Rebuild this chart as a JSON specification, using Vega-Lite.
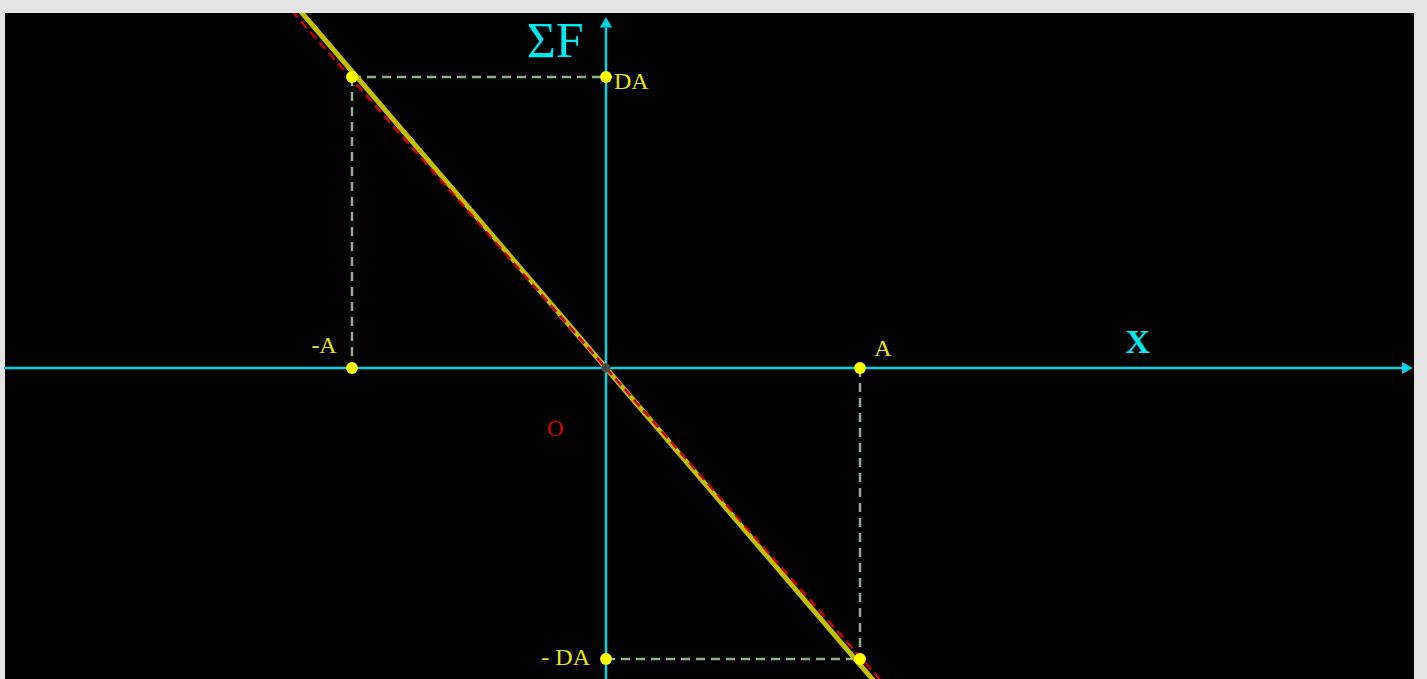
{
  "$schema": "https://vega.github.io/schema/vega-lite/v6.json",
  "autosize": {"type": "none"},
  "width": 1409,
  "height": 666,
  "padding": {"left": 5, "top": 13, "right": 13, "bottom": 0},
  "background": "#e4e4e4",
  "config": {"view": {"fill": "#000000", "stroke": null}},
  "datasets": {
    "axes": [
      {"x": -2.37, "y": 0, "x2": 3.14, "y2": 0},
      {"x": 0, "y": -1.07, "x2": 0, "y2": 1.17}
    ],
    "arrows": [
      {"x": 3.155, "y": 0, "dir": "right"},
      {"x": 0, "y": 1.188, "dir": "up"}
    ],
    "guides": [
      {"x": -1, "y": 1, "x2": 0, "y2": 1},
      {"x": -1, "y": 1, "x2": -1, "y2": 0},
      {"x": 1, "y": 0, "x2": 1, "y2": -1},
      {"x": 0, "y": -1, "x2": 1, "y2": -1}
    ],
    "force": [{"x": -1.275, "y": 1.3, "x2": 1.275, "y2": -1.3}],
    "ideal": [{"x": -1.31, "y": 1.3, "x2": 1.31, "y2": -1.3}],
    "points": [
      {"x": -1, "y": 1},
      {"x": 0, "y": 1},
      {"x": -1, "y": 0},
      {"x": 1, "y": 0},
      {"x": 0, "y": -1},
      {"x": 1, "y": -1}
    ],
    "origin": [{"x": 0, "y": 0}],
    "labelsLeft": [
      {"x": 0.0315, "y": 0.983, "label": "DA"}
    ],
    "labelsCenter": [
      {"x": -1.11, "y": 0.0756, "label": "-A"},
      {"x": 1.09, "y": 0.065, "label": "A"}
    ],
    "labelsRight": [
      {"x": -0.063, "y": -0.997, "label": "- DA"}
    ],
    "sigma": [{"x": -0.2, "y": 1.12, "label": "ΣF"}],
    "xlabel": [{"x": 2.094, "y": 0.085, "label": "X"}],
    "olabel": [{"x": -0.2, "y": -0.21, "label": "O"}]
  },
  "encoding": {
    "x": {"field": "x", "type": "quantitative", "scale": {"domain": [-2.366, 3.181], "nice": false, "zero": false}, "axis": null},
    "y": {"field": "y", "type": "quantitative", "scale": {"domain": [-1.0687, 1.2199], "nice": false, "zero": false}, "axis": null}
  },
  "layer": [
    {
      "data": {"name": "axes"},
      "mark": {"type": "rule", "color": "#00d4e6", "strokeWidth": 2.5},
      "encoding": {"x2": {"field": "x2"}, "y2": {"field": "y2"}}
    },
    {
      "data": {"name": "arrows"},
      "transform": [{"filter": "datum.dir == 'right'"}],
      "mark": {"type": "point", "shape": "triangle-right", "filled": true, "color": "#00d4e6", "size": 150, "opacity": 1}
    },
    {
      "data": {"name": "arrows"},
      "transform": [{"filter": "datum.dir == 'up'"}],
      "mark": {"type": "point", "shape": "triangle-up", "filled": true, "color": "#00d4e6", "size": 150, "opacity": 1}
    },
    {
      "data": {"name": "guides"},
      "mark": {"type": "rule", "color": "#8fb08f", "strokeWidth": 2.5, "strokeDash": [9, 6]},
      "encoding": {"x2": {"field": "x2"}, "y2": {"field": "y2"}}
    },
    {
      "data": {"name": "force"},
      "mark": {"type": "rule", "color": "#c0c000", "strokeWidth": 5, "clip": true},
      "encoding": {"x2": {"field": "x2"}, "y2": {"field": "y2"}}
    },
    {
      "data": {"name": "ideal"},
      "mark": {"type": "rule", "color": "#cc0000", "strokeWidth": 2.5, "strokeDash": [9, 5], "clip": true},
      "encoding": {"x2": {"field": "x2"}, "y2": {"field": "y2"}}
    },
    {
      "data": {"name": "points"},
      "mark": {"type": "point", "shape": "circle", "filled": true, "color": "#ffff00", "size": 140, "opacity": 1}
    },
    {
      "data": {"name": "origin"},
      "mark": {"type": "point", "shape": "circle", "filled": true, "color": "#4a4a4a", "size": 90, "opacity": 1}
    },
    {
      "data": {"name": "labelsLeft"},
      "mark": {"type": "text", "font": "Liberation Serif", "fontSize": 24, "color": "#e8e800", "baseline": "middle", "align": "left"},
      "encoding": {"text": {"field": "label"}}
    },
    {
      "data": {"name": "labelsCenter"},
      "mark": {"type": "text", "font": "Liberation Serif", "fontSize": 24, "color": "#e8e800", "baseline": "middle", "align": "center"},
      "encoding": {"text": {"field": "label"}}
    },
    {
      "data": {"name": "labelsRight"},
      "mark": {"type": "text", "font": "Liberation Serif", "fontSize": 24, "color": "#e8e800", "baseline": "middle", "align": "right"},
      "encoding": {"text": {"field": "label"}}
    },
    {
      "data": {"name": "sigma"},
      "mark": {"type": "text", "font": "Liberation Serif", "fontSize": 50, "color": "#00e8f0", "baseline": "middle", "align": "center"},
      "encoding": {"text": {"field": "label"}}
    },
    {
      "data": {"name": "xlabel"},
      "mark": {"type": "text", "font": "Liberation Serif", "fontSize": 34, "fontWeight": "bold", "color": "#00e8f0", "baseline": "middle", "align": "center"},
      "encoding": {"text": {"field": "label"}}
    },
    {
      "data": {"name": "olabel"},
      "mark": {"type": "text", "font": "Liberation Serif", "fontSize": 23, "color": "#dd0000", "baseline": "middle", "align": "center"},
      "encoding": {"text": {"field": "label"}}
    }
  ]
}
